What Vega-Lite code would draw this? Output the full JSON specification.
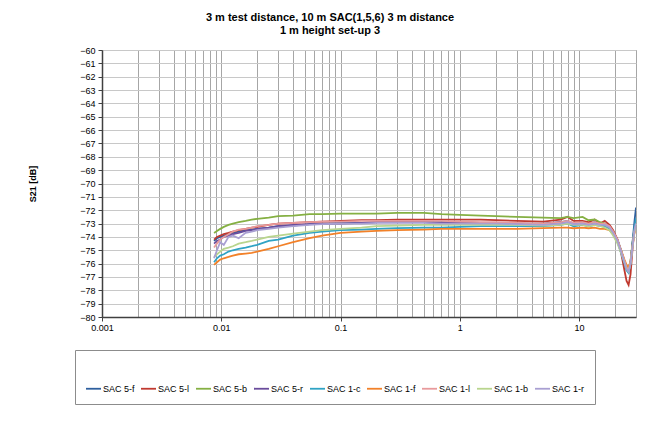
{
  "$schema": "https://vega.github.io/schema/vega-lite/v6.json",
  "width": 534,
  "height": 267,
  "autosize": {"type": "none"},
  "padding": {"left": 102, "top": 50, "right": 27, "bottom": 113},
  "background": "white",
  "title": {
    "text": ["3 m test distance, 10 m SAC(1,5,6) 3 m distance", "1 m height set-up 3"],
    "font": "Liberation Sans", "fontSize": 11, "fontWeight": "bold", "color": "#000000",
    "anchor": "middle", "dx": -39, "offset": 10, "lineHeight": 13
  },
  "data": {"values": [
    {"f":0.0087,"SAC 5-f":-74.3,"SAC 5-l":-74.2,"SAC 5-b":-73.7,"SAC 5-r":-74.5,"SAC 1-c":-75.9,"SAC 1-f":-76.1,"SAC 1-l":-74.8,"SAC 1-b":-75.5,"SAC 1-r":-75.6},
    {"f":0.0092,"SAC 5-f":-74.1,"SAC 5-l":-74.0,"SAC 5-b":-73.55,"SAC 5-r":-74.3,"SAC 1-c":-75.6,"SAC 1-f":-75.9,"SAC 1-l":-74.5,"SAC 1-b":-75.3,"SAC 1-r":-75.0},
    {"f":0.0098,"SAC 5-f":-74.0,"SAC 5-l":-73.9,"SAC 5-b":-73.4,"SAC 5-r":-74.2,"SAC 1-c":-75.4,"SAC 1-f":-75.7,"SAC 1-l":-74.2,"SAC 1-b":-75.1,"SAC 1-r":-74.4},
    {"f":0.0105,"SAC 5-f":-73.9,"SAC 5-l":-73.8,"SAC 5-b":-73.25,"SAC 5-r":-74.0,"SAC 1-c":-75.3,"SAC 1-f":-75.6,"SAC 1-l":-74.0,"SAC 1-b":-74.9,"SAC 1-r":-74.6},
    {"f":0.0115,"SAC 5-f":-73.8,"SAC 5-l":-73.7,"SAC 5-b":-73.1,"SAC 5-r":-73.9,"SAC 1-c":-75.1,"SAC 1-f":-75.5,"SAC 1-l":-73.8,"SAC 1-b":-74.8,"SAC 1-r":-74.0},
    {"f":0.0125,"SAC 5-f":-73.7,"SAC 5-l":-73.6,"SAC 5-b":-73.0,"SAC 5-r":-73.8,"SAC 1-c":-75.0,"SAC 1-f":-75.4,"SAC 1-l":-73.6,"SAC 1-b":-74.7,"SAC 1-r":-73.9},
    {"f":0.014,"SAC 5-f":-73.6,"SAC 5-l":-73.5,"SAC 5-b":-72.9,"SAC 5-r":-73.7,"SAC 1-c":-74.9,"SAC 1-f":-75.3,"SAC 1-l":-73.45,"SAC 1-b":-74.5,"SAC 1-r":-74.1},
    {"f":0.016,"SAC 5-f":-73.5,"SAC 5-l":-73.4,"SAC 5-b":-72.8,"SAC 5-r":-73.55,"SAC 1-c":-74.8,"SAC 1-f":-75.25,"SAC 1-l":-73.4,"SAC 1-b":-74.4,"SAC 1-r":-73.7},
    {"f":0.018,"SAC 5-f":-73.45,"SAC 5-l":-73.3,"SAC 5-b":-72.7,"SAC 5-r":-73.5,"SAC 1-c":-74.7,"SAC 1-f":-75.2,"SAC 1-l":-73.3,"SAC 1-b":-74.3,"SAC 1-r":-73.6},
    {"f":0.02,"SAC 5-f":-73.4,"SAC 5-l":-73.25,"SAC 5-b":-72.65,"SAC 5-r":-73.4,"SAC 1-c":-74.6,"SAC 1-f":-75.1,"SAC 1-l":-73.2,"SAC 1-b":-74.2,"SAC 1-r":-73.5},
    {"f":0.025,"SAC 5-f":-73.3,"SAC 5-l":-73.1,"SAC 5-b":-72.55,"SAC 5-r":-73.3,"SAC 1-c":-74.3,"SAC 1-f":-74.9,"SAC 1-l":-73.1,"SAC 1-b":-74.0,"SAC 1-r":-73.4},
    {"f":0.03,"SAC 5-f":-73.2,"SAC 5-l":-73.0,"SAC 5-b":-72.45,"SAC 5-r":-73.2,"SAC 1-c":-74.2,"SAC 1-f":-74.7,"SAC 1-l":-73.0,"SAC 1-b":-73.9,"SAC 1-r":-73.3},
    {"f":0.04,"SAC 5-f":-73.15,"SAC 5-l":-72.95,"SAC 5-b":-72.4,"SAC 5-r":-73.1,"SAC 1-c":-73.9,"SAC 1-f":-74.4,"SAC 1-l":-72.95,"SAC 1-b":-73.75,"SAC 1-r":-73.2},
    {"f":0.055,"SAC 5-f":-73.05,"SAC 5-l":-72.9,"SAC 5-b":-72.3,"SAC 5-r":-73.05,"SAC 1-c":-73.7,"SAC 1-f":-74.1,"SAC 1-l":-72.9,"SAC 1-b":-73.6,"SAC 1-r":-73.1},
    {"f":0.07,"SAC 5-f":-73.0,"SAC 5-l":-72.85,"SAC 5-b":-72.3,"SAC 5-r":-73.0,"SAC 1-c":-73.6,"SAC 1-f":-73.9,"SAC 1-l":-72.85,"SAC 1-b":-73.5,"SAC 1-r":-73.05},
    {"f":0.1,"SAC 5-f":-72.95,"SAC 5-l":-72.8,"SAC 5-b":-72.25,"SAC 5-r":-73.0,"SAC 1-c":-73.5,"SAC 1-f":-73.7,"SAC 1-l":-72.85,"SAC 1-b":-73.4,"SAC 1-r":-73.0},
    {"f":0.15,"SAC 5-f":-72.95,"SAC 5-l":-72.75,"SAC 5-b":-72.25,"SAC 5-r":-72.95,"SAC 1-c":-73.45,"SAC 1-f":-73.6,"SAC 1-l":-72.8,"SAC 1-b":-73.3,"SAC 1-r":-73.0},
    {"f":0.2,"SAC 5-f":-72.9,"SAC 5-l":-72.75,"SAC 5-b":-72.25,"SAC 5-r":-72.9,"SAC 1-c":-73.4,"SAC 1-f":-73.55,"SAC 1-l":-72.8,"SAC 1-b":-73.2,"SAC 1-r":-72.95},
    {"f":0.3,"SAC 5-f":-72.9,"SAC 5-l":-72.7,"SAC 5-b":-72.2,"SAC 5-r":-72.9,"SAC 1-c":-73.35,"SAC 1-f":-73.5,"SAC 1-l":-72.8,"SAC 1-b":-73.15,"SAC 1-r":-72.95},
    {"f":0.5,"SAC 5-f":-72.9,"SAC 5-l":-72.7,"SAC 5-b":-72.2,"SAC 5-r":-72.9,"SAC 1-c":-73.3,"SAC 1-f":-73.45,"SAC 1-l":-72.8,"SAC 1-b":-73.1,"SAC 1-r":-72.95},
    {"f":0.7,"SAC 5-f":-72.9,"SAC 5-l":-72.7,"SAC 5-b":-72.3,"SAC 5-r":-72.95,"SAC 1-c":-73.3,"SAC 1-f":-73.4,"SAC 1-l":-72.8,"SAC 1-b":-73.1,"SAC 1-r":-73.0},
    {"f":1,"SAC 5-f":-72.9,"SAC 5-l":-72.7,"SAC 5-b":-72.35,"SAC 5-r":-72.95,"SAC 1-c":-73.25,"SAC 1-f":-73.4,"SAC 1-l":-72.85,"SAC 1-b":-73.1,"SAC 1-r":-73.0},
    {"f":1.5,"SAC 5-f":-72.95,"SAC 5-l":-72.7,"SAC 5-b":-72.4,"SAC 5-r":-73.0,"SAC 1-c":-73.2,"SAC 1-f":-73.4,"SAC 1-l":-72.9,"SAC 1-b":-73.1,"SAC 1-r":-73.0},
    {"f":2,"SAC 5-f":-72.95,"SAC 5-l":-72.75,"SAC 5-b":-72.45,"SAC 5-r":-73.0,"SAC 1-c":-73.2,"SAC 1-f":-73.4,"SAC 1-l":-72.9,"SAC 1-b":-73.1,"SAC 1-r":-73.0},
    {"f":3,"SAC 5-f":-73.0,"SAC 5-l":-72.8,"SAC 5-b":-72.5,"SAC 5-r":-73.0,"SAC 1-c":-73.2,"SAC 1-f":-73.4,"SAC 1-l":-72.95,"SAC 1-b":-73.1,"SAC 1-r":-73.05},
    {"f":5,"SAC 5-f":-73.0,"SAC 5-l":-72.85,"SAC 5-b":-72.55,"SAC 5-r":-73.05,"SAC 1-c":-73.2,"SAC 1-f":-73.35,"SAC 1-l":-73.0,"SAC 1-b":-73.15,"SAC 1-r":-73.1},
    {"f":7,"SAC 5-f":-72.9,"SAC 5-l":-72.7,"SAC 5-b":-72.6,"SAC 5-r":-72.9,"SAC 1-c":-73.1,"SAC 1-f":-73.3,"SAC 1-l":-72.9,"SAC 1-b":-73.1,"SAC 1-r":-73.0},
    {"f":8,"SAC 5-f":-72.8,"SAC 5-l":-72.5,"SAC 5-b":-72.5,"SAC 5-r":-72.85,"SAC 1-c":-73.0,"SAC 1-f":-73.3,"SAC 1-l":-72.8,"SAC 1-b":-73.0,"SAC 1-r":-72.9},
    {"f":9,"SAC 5-f":-73.0,"SAC 5-l":-72.8,"SAC 5-b":-72.6,"SAC 5-r":-73.0,"SAC 1-c":-73.2,"SAC 1-f":-73.35,"SAC 1-l":-72.95,"SAC 1-b":-73.1,"SAC 1-r":-73.05},
    {"f":10.7,"SAC 5-f":-72.9,"SAC 5-l":-72.8,"SAC 5-b":-72.5,"SAC 5-r":-73.0,"SAC 1-c":-73.1,"SAC 1-f":-73.3,"SAC 1-l":-72.9,"SAC 1-b":-73.1,"SAC 1-r":-73.0},
    {"f":12,"SAC 5-f":-73.0,"SAC 5-l":-72.9,"SAC 5-b":-72.75,"SAC 5-r":-73.1,"SAC 1-c":-73.2,"SAC 1-f":-73.35,"SAC 1-l":-73.0,"SAC 1-b":-73.2,"SAC 1-r":-73.1},
    {"f":13.5,"SAC 5-f":-72.9,"SAC 5-l":-72.7,"SAC 5-b":-72.7,"SAC 5-r":-73.0,"SAC 1-c":-73.1,"SAC 1-f":-73.3,"SAC 1-l":-72.9,"SAC 1-b":-73.1,"SAC 1-r":-73.0},
    {"f":15,"SAC 5-f":-73.0,"SAC 5-l":-73.0,"SAC 5-b":-72.9,"SAC 5-r":-73.1,"SAC 1-c":-73.2,"SAC 1-f":-73.4,"SAC 1-l":-73.0,"SAC 1-b":-73.2,"SAC 1-r":-73.1},
    {"f":16.4,"SAC 5-f":-73.0,"SAC 5-l":-72.8,"SAC 5-b":-73.0,"SAC 5-r":-73.1,"SAC 1-c":-73.2,"SAC 1-f":-73.4,"SAC 1-l":-73.0,"SAC 1-b":-73.3,"SAC 1-r":-73.1},
    {"f":18,"SAC 5-f":-73.2,"SAC 5-l":-73.1,"SAC 5-b":-73.3,"SAC 5-r":-73.3,"SAC 1-c":-73.4,"SAC 1-f":-73.5,"SAC 1-l":-73.2,"SAC 1-b":-73.5,"SAC 1-r":-73.3},
    {"f":19.3,"SAC 5-f":-73.6,"SAC 5-l":-73.5,"SAC 5-b":-73.7,"SAC 5-r":-73.7,"SAC 1-c":-73.8,"SAC 1-f":-73.8,"SAC 1-l":-73.6,"SAC 1-b":-73.9,"SAC 1-r":-73.7},
    {"f":21,"SAC 5-f":-74.2,"SAC 5-l":-74.2,"SAC 5-b":-74.3,"SAC 5-r":-74.3,"SAC 1-c":-74.4,"SAC 1-f":-74.3,"SAC 1-l":-74.2,"SAC 1-b":-74.5,"SAC 1-r":-74.3},
    {"f":22.5,"SAC 5-f":-75.0,"SAC 5-l":-75.2,"SAC 5-b":-75.0,"SAC 5-r":-75.1,"SAC 1-c":-75.2,"SAC 1-f":-75.0,"SAC 1-l":-75.0,"SAC 1-b":-75.2,"SAC 1-r":-75.1},
    {"f":24,"SAC 5-f":-75.9,"SAC 5-l":-76.5,"SAC 5-b":-75.8,"SAC 5-r":-75.9,"SAC 1-c":-76.0,"SAC 1-f":-75.7,"SAC 1-l":-75.8,"SAC 1-b":-75.9,"SAC 1-r":-75.9},
    {"f":25,"SAC 5-f":-76.4,"SAC 5-l":-77.3,"SAC 5-b":-76.3,"SAC 5-r":-76.4,"SAC 1-c":-76.5,"SAC 1-f":-76.1,"SAC 1-l":-76.3,"SAC 1-b":-76.4,"SAC 1-r":-76.4},
    {"f":26,"SAC 5-f":-76.6,"SAC 5-l":-77.6,"SAC 5-b":-76.5,"SAC 5-r":-76.6,"SAC 1-c":-76.7,"SAC 1-f":-76.3,"SAC 1-l":-76.5,"SAC 1-b":-76.6,"SAC 1-r":-76.6},
    {"f":27,"SAC 5-f":-76.0,"SAC 5-l":-76.8,"SAC 5-b":-75.8,"SAC 5-r":-75.9,"SAC 1-c":-76.0,"SAC 1-f":-75.8,"SAC 1-l":-75.9,"SAC 1-b":-76.0,"SAC 1-r":-76.0},
    {"f":28,"SAC 5-f":-74.5,"SAC 5-l":-75.0,"SAC 5-b":-74.5,"SAC 5-r":-74.6,"SAC 1-c":-74.6,"SAC 1-f":-74.7,"SAC 1-l":-74.8,"SAC 1-b":-74.8,"SAC 1-r":-74.8},
    {"f":29,"SAC 5-f":-73.0,"SAC 5-l":-73.6,"SAC 5-b":-73.5,"SAC 5-r":-73.5,"SAC 1-c":-73.4,"SAC 1-f":-73.8,"SAC 1-l":-73.7,"SAC 1-b":-73.7,"SAC 1-r":-73.6},
    {"f":30,"SAC 5-f":-71.8,"SAC 5-l":-72.8,"SAC 5-b":-73.0,"SAC 5-r":-73.0,"SAC 1-c":-72.6,"SAC 1-f":-73.3,"SAC 1-l":-73.1,"SAC 1-b":-73.2,"SAC 1-r":-73.0}
  ]},
  "transform": [
    {"fold": ["SAC 5-f","SAC 5-l","SAC 5-b","SAC 5-r","SAC 1-c","SAC 1-f","SAC 1-l","SAC 1-b","SAC 1-r"], "as": ["series","s21"]}
  ],
  "mark": {"type": "line", "strokeWidth": 1.8, "clip": true},
  "encoding": {
    "x": {
      "field": "f", "type": "quantitative",
      "scale": {"type": "log", "domain": [0.001, 30], "nice": false},
      "axis": {
        "title": "Frequency [MHz]",
        "titleFont": "Liberation Sans", "titleFontSize": 9, "titleFontWeight": "bold", "titleColor": "#000000",
        "titleX": 222, "titleY": 32,
        "values": [0.001,0.002,0.003,0.004,0.005,0.006,0.007,0.008,0.009,0.01,0.02,0.03,0.04,0.05,0.06,0.07,0.08,0.09,0.1,0.2,0.3,0.4,0.5,0.6,0.7,0.8,0.9,1,2,3,4,5,6,7,8,9,10,20,30],
        "labelExpr": "abs(log(datum.value)/LN10 - round(log(datum.value)/LN10)) < 0.000001 ? format(datum.value, '~g') : ''",
        "labelFont": "Liberation Sans", "labelFontSize": 9, "labelColor": "#000000", "labelPadding": 2,
        "labelOverlap": false, "labelFlush": false,
        "grid": true, "gridColor": "#a6a6a6", "gridWidth": 1,
        "tickSize": 4, "tickColor": "#404040",
        "tickOpacity": {"condition": {"test": "abs(log(datum.value)/LN10 - round(log(datum.value)/LN10)) < 0.000001", "value": 1}, "value": 0},
        "domainColor": "#404040", "domainWidth": 1.5
      }
    },
    "y": {
      "field": "s21", "type": "quantitative",
      "scale": {"domain": [-80, -60], "nice": false, "zero": false},
      "axis": {
        "title": "S21 [dB]",
        "titleFont": "Liberation Sans", "titleFontSize": 9, "titleFontWeight": "bold", "titleColor": "#000000",
        "titlePadding": 42,
        "values": [-80,-79,-78,-77,-76,-75,-74,-73,-72,-71,-70,-69,-68,-67,-66,-65,-64,-63,-62,-61,-60],
        "labelFont": "Liberation Sans", "labelFontSize": 9, "labelColor": "#000000", "labelPadding": 3,
        "labelOverlap": false,
        "grid": true, "gridColor": "#c8c8c8", "gridWidth": 1,
        "tickSize": 4, "tickColor": "#404040",
        "domainColor": "#404040", "domainWidth": 1.5
      }
    },
    "color": {
      "field": "series", "type": "nominal",
      "scale": {
        "domain": ["SAC 5-f","SAC 5-l","SAC 5-b","SAC 5-r","SAC 1-c","SAC 1-f","SAC 1-l","SAC 1-b","SAC 1-r"],
        "range": ["#2e5f9e","#c0392f","#85b043","#6a4c9c","#2fa3c4","#f28129","#e89a9c","#b9d58e","#a99fd2"]
      },
      "legend": {
        "orient": "none", "legendX": -27, "legendY": 300,
        "direction": "horizontal", "columns": 9,
        "title": " ", "titleFontSize": 9, "titlePadding": 11,
        "symbolType": "stroke", "symbolSize": 225, "symbolStrokeWidth": 1.8,
        "labelFont": "Liberation Sans", "labelFontSize": 9, "labelColor": "#000000", "labelOffset": 1,
        "columnPadding": 2,
        "padding": 10, "strokeColor": "#8c8c8c", "fillColor": "#ffffff"
      }
    }
  },
  "config": {"view": {"stroke": "#7f7f7f", "strokeWidth": 1}}
}
